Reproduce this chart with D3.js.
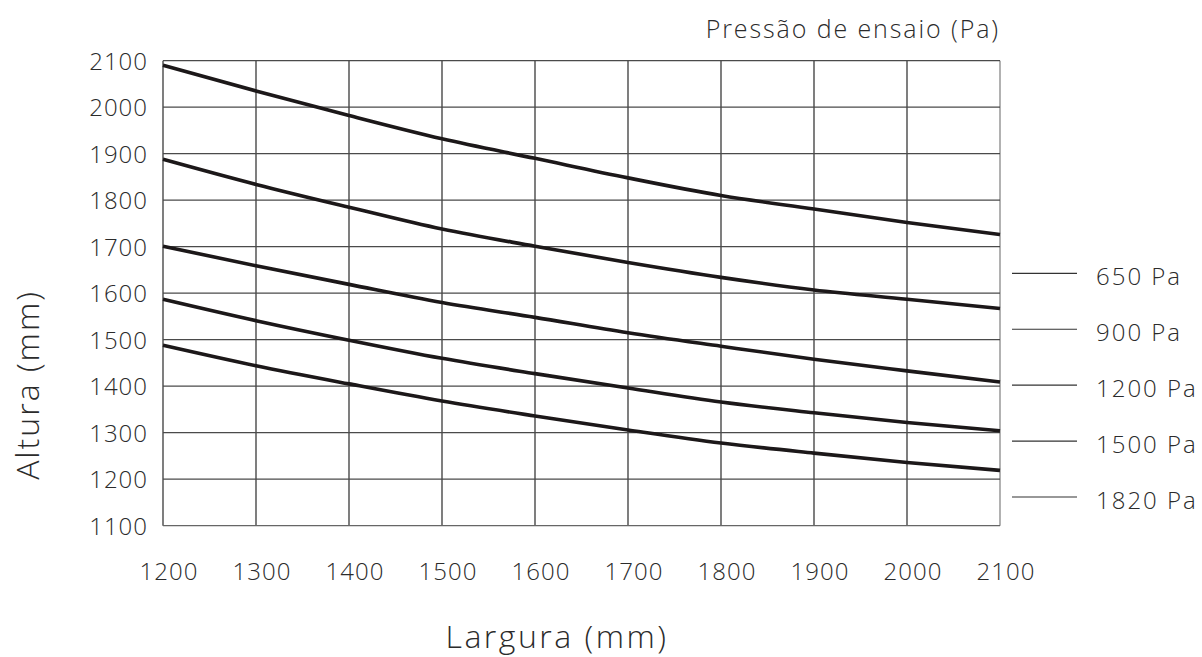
<!DOCTYPE html>
<html>
<head>
<meta charset="utf-8">
<script src="https://cdn.jsdelivr.net/npm/d3@7"></script>
<style>
  html, body { margin: 0; padding: 0; background: #fff; }
  svg text { font-family: "Open Sans", "Lato", sans-serif; font-weight: 300; fill: #2b2b2b; }
</style>
</head>
<body>
<svg id="chart" width="1202" height="657"></svg>
<script>
// ---- data ----
const widths = [1200, 1300, 1400, 1500, 1600, 1700, 1800, 1900, 2000, 2100];
const xTicks = [1200, 1300, 1400, 1500, 1600, 1700, 1800, 1900, 2000, 2100];
const yTicks = [1100, 1200, 1300, 1400, 1500, 1600, 1700, 1800, 1900, 2000, 2100];
const pressureLabels = ["650 Pa", "900 Pa", "1200 Pa", "1500 Pa", "1820 Pa"];
const h650  = [2090, 2035, 1982, 1932, 1890, 1848, 1810, 1781, 1752, 1726];
const h900  = [1888, 1834, 1785, 1738, 1701, 1666, 1634, 1607, 1587, 1567];
const h1200 = [1701, 1659, 1619, 1580, 1548, 1515, 1486, 1458, 1433, 1409];
const h1500 = [1587, 1541, 1499, 1460, 1427, 1396, 1366, 1343, 1322, 1304];
const h1820 = [1488, 1444, 1405, 1368, 1336, 1306, 1278, 1256, 1236, 1219];
const seriesList = [h650, h900, h1200, h1500, h1820];
const titleText = "Pressão de ensaio (Pa)";
const xLabel = "Largura (mm)";
const yLabel = "Altura (mm)";

// ---- layout ----
const svg = d3.select("#chart");
const m = { left: 163, right: 1000, top: 60.7, bottom: 525.7 };
const x = d3.scaleLinear().domain([1200, 2100]).range([m.left, m.right]);
const y = d3.scaleLinear().domain([1100, 2100]).range([m.bottom, m.top]);

// grid
const grid = svg.append("g");
grid.selectAll("line.v").data(xTicks).join("line")
  .attr("x1", d => x(d)).attr("x2", d => x(d))
  .attr("y1", m.top).attr("y2", m.bottom)
  .attr("stroke", d => d === 2100 ? "#888" : "#3a3a3a").attr("stroke-width", 1.3);
grid.selectAll("line.h").data(yTicks).join("line")
  .attr("x1", m.left).attr("x2", m.right)
  .attr("y1", d => y(d)).attr("y2", d => y(d))
  .attr("stroke", d => d === 1100 ? "#666" : "#4a4a4a").attr("stroke-width", 1.3);

// y tick labels
svg.append("g").selectAll("text").data(yTicks).join("text")
  .attr("x", 148).attr("y", d => y(d) + 9)
  .attr("text-anchor", "end").attr("font-size", 24).attr("letter-spacing", 1)
  .text(d => d);

// x tick labels
svg.append("g").selectAll("text").data(xTicks).join("text")
  .attr("x", d => x(d) + 6).attr("y", 580)
  .attr("text-anchor", "middle").attr("font-size", 24).attr("letter-spacing", 1)
  .text(d => d);

// curves
const line = d3.line()
  .x((d, i) => x(widths[i]))
  .y(d => y(d))
  .curve(d3.curveMonotoneX);
svg.append("g").selectAll("path").data(seriesList).join("path")
  .attr("d", line)
  .attr("fill", "none")
  .attr("stroke", "#1c1819")
  .attr("stroke-width", 3.6)
  .attr("stroke-linecap", "butt");

// legend
const legY = d3.scalePoint().domain(pressureLabels).range([273.3, 497]);
const leg = svg.append("g");
leg.selectAll("line").data(pressureLabels).join("line")
  .attr("x1", 1012).attr("x2", 1077)
  .attr("y1", d => legY(d)).attr("y2", d => legY(d))
  .attr("stroke", "#333").attr("stroke-width", 1.2);
leg.selectAll("text").data(pressureLabels).join("text")
  .attr("x", 1096).attr("y", d => legY(d) + 11.5)
  .attr("font-size", 24).attr("letter-spacing", 2)
  .text(d => d);

// title
svg.append("text").attr("x", 1000).attr("y", 38)
  .attr("text-anchor", "end").attr("font-size", 25).attr("letter-spacing", 1.9).text(titleText);

// axis titles
svg.append("text").attr("x", 557).attr("y", 648)
  .attr("text-anchor", "middle").attr("font-size", 32).attr("letter-spacing", 2.5).text(xLabel);
svg.append("text")
  .attr("transform", "translate(39,385) rotate(-90)")
  .attr("text-anchor", "middle").attr("font-size", 32).attr("letter-spacing", 2).text(yLabel);
</script>
</body>
</html>
